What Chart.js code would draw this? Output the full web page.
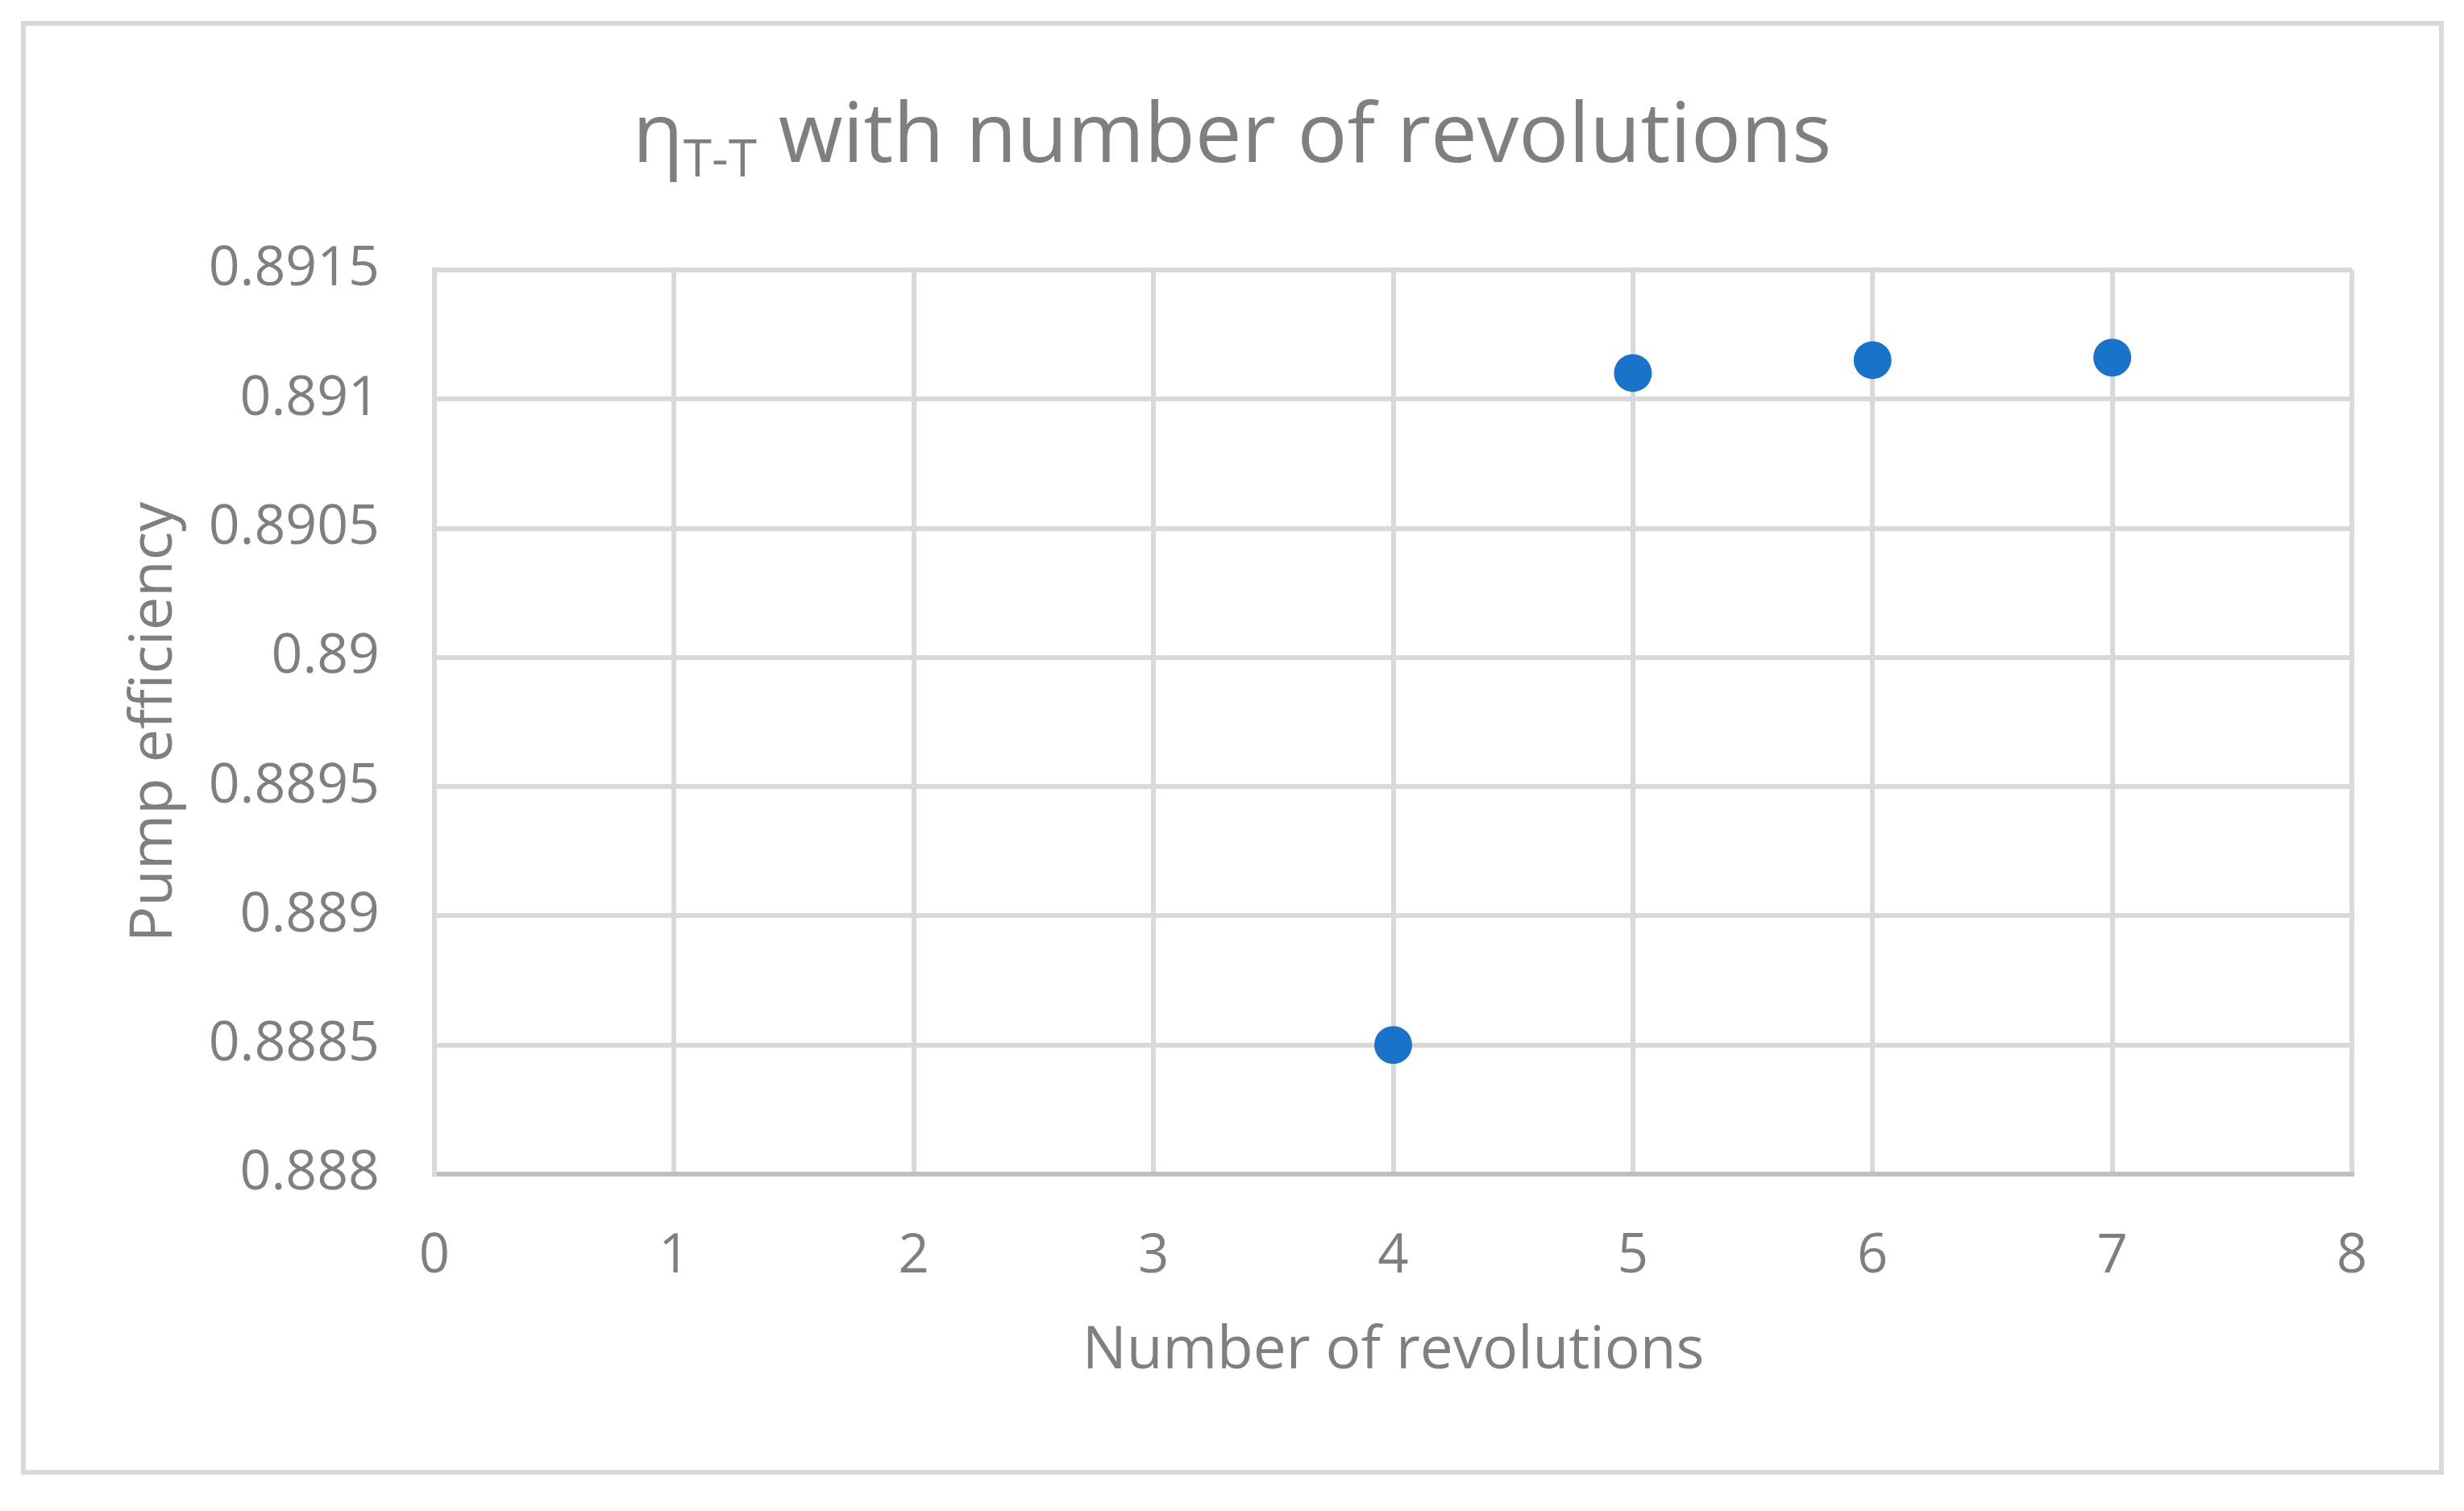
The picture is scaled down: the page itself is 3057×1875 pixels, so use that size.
<!DOCTYPE html>
<html>
<head>
<meta charset="utf-8">
<script src="https://cdn.jsdelivr.net/npm/chart.js@4/dist/chart.umd.min.js"></script>
<style>
html,body{margin:0;padding:0;background:#fff;}
#wrap{width:3057px;height:1875px;position:relative;}
</style>
</head>
<body>
<div id="wrap"><canvas id="c" width="3057" height="1875"></canvas></div>
<script>
const revolutions = [4, 5, 6, 7];
const efficiency = [0.8885, 0.891101, 0.891151, 0.891161];
const xTickValues = [0, 1, 2, 3, 4, 5, 6, 7, 8];
const xTickLabels = ['0', '1', '2', '3', '4', '5', '6', '7', '8'];
const yTickValues = [0.888, 0.8885, 0.889, 0.8895, 0.89, 0.8905, 0.891, 0.8915];
const yTickLabels = ['0.888', '0.8885', '0.889', '0.8895', '0.89', '0.8905', '0.891', '0.8915'];
const titleMain = 'η';
const titleSub = 'T-T';
const titleRest = ' with number of revolutions';
const xTitle = 'Number of revolutions';
const yTitle = 'Pump efficiency';

const FONT = '"Open Sans", "Segoe UI", sans-serif';
const GREY = '#7f7f7f';

const frame = {
  id: 'frame',
  beforeDraw(chart) {
    const ctx = chart.ctx;
    ctx.save();
    ctx.fillStyle = '#ffffff';
    ctx.fillRect(0, 0, chart.width, chart.height);
    ctx.strokeStyle = '#d9d9d9';
    ctx.lineWidth = 6;
    ctx.strokeRect(29, 29, 3000, 1798);
    ctx.restore();
  },
  afterDraw(chart) {
    const ctx = chart.ctx;
    ctx.save();
    ctx.fillStyle = GREY;
    ctx.textBaseline = 'alphabetic';
    const big = '103px ' + FONT;
    const small = '64px ' + FONT;
    ctx.font = big;
    const w1 = ctx.measureText(titleMain).width;
    const w3 = ctx.measureText(titleRest).width;
    ctx.font = small;
    const w2 = ctx.measureText(titleSub).width;
    const total = w1 + w2 + w3;
    let x = chart.width / 2 - total / 2;
    const base = 201;
    ctx.font = big;
    ctx.fillText(titleMain, x, base);
    x += w1;
    ctx.font = small;
    ctx.fillText(titleSub, x, base + 18);
    x += w2;
    ctx.font = big;
    ctx.fillText(titleRest, x, base);
    ctx.restore();
  }
};

new Chart(document.getElementById('c'), {
  type: 'scatter',
  data: {
    datasets: [{
      data: revolutions.map((r, i) => ({x: r, y: efficiency[i]})),
      backgroundColor: '#1873c9',
      borderColor: '#1873c9',
      pointRadius: 23.5,
      pointHoverRadius: 23.5,
      borderWidth: 0,
      clip: false
    }]
  },
  options: {
    responsive: false,
    animation: false,
    events: [],
    layout: {padding: {top: 335, left: 148, right: 139, bottom: 154}},
    plugins: {legend: {display: false}, tooltip: {enabled: false}, title: {display: false}},
    scales: {
      x: {
        type: 'linear',
        min: 0, max: 8,
        afterFit(s) { s.height = 264; },
        afterBuildTicks(s) { s.ticks = xTickValues.map(v => ({value: v})); },
        ticks: {
          color: GREY,
          font: {family: FONT, size: 67},
          padding: 63,
          callback: (v) => xTickLabels[xTickValues.indexOf(v)]
        },
        grid: {color: '#d9d9d9', lineWidth: 6, drawTicks: false},
        border: {color: '#bfbfbf', width: 6},
        title: {display: true, text: xTitle, color: GREY, font: {family: FONT, size: 73}, padding: 0}
      },
      y: {
        type: 'linear',
        min: 0.888, max: 0.8915,
        afterFit(s) { s.width = 391; },
        afterBuildTicks(s) { s.ticks = yTickValues.map(v => ({value: v})); },
        ticks: {
          color: GREY,
          font: {family: FONT, size: 68},
          padding: 68,
          callback: (v) => {
            const i = yTickValues.findIndex(t => Math.abs(t - v) < 1e-9);
            return i >= 0 ? yTickLabels[i] : '';
          }
        },
        grid: {color: '#d9d9d9', lineWidth: 6, drawTicks: false},
        border: {color: '#d9d9d9', width: 6},
        title: {display: true, text: yTitle, color: GREY, font: {family: FONT, size: 74}, padding: 0}
      }
    }
  },
  plugins: [frame]
});
</script>
</body>
</html>
